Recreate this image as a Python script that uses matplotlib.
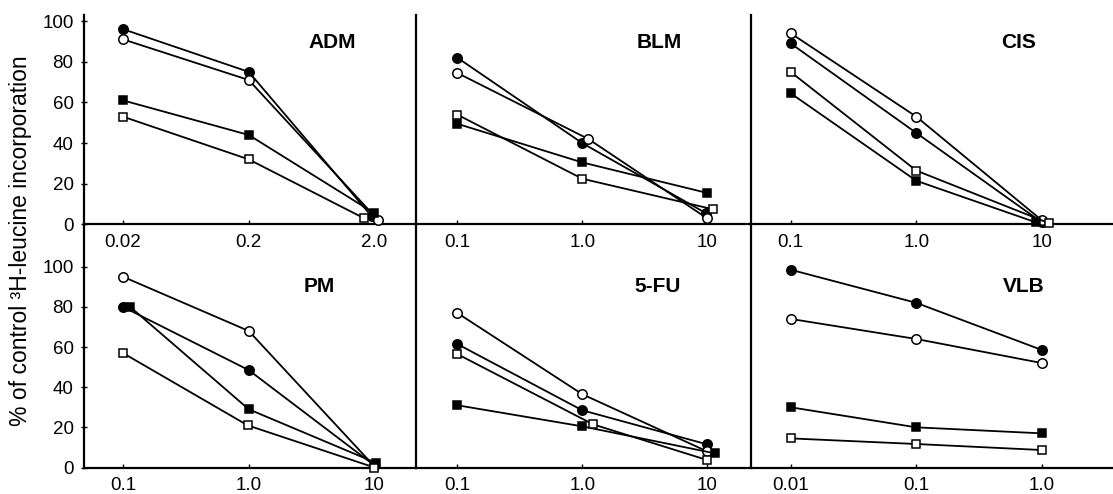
import matplotlib
matplotlib.use('Agg')
import matplotlib.pyplot as plt
import numpy as np
from matplotlib.ticker import FixedLocator, FixedFormatter, NullLocator

plt.rcParams['font.family'] = ['Liberation Sans', 'DejaVu Sans']

# panel names and dose ticks
panel_names = ['ADM', 'BLM', 'CIS', 'PM', '5-FU', 'VLB']
dose_ticks = [[0.02, 0.2, 2.0], [0.1, 1.0, 10], [0.1, 1.0, 10],
              [0.1, 1.0, 10], [0.1, 1.0, 10], [0.01, 0.1, 1.0]]
dose_labels = [['0.02', '0.2', '2.0'], ['0.1', '1.0', '10'], ['0.1', '1.0', '10'],
               ['0.1', '1.0', '10'], ['0.1', '1.0', '10'], ['0.01', '0.1', '1.0']]

# series order: filled circle, open circle, filled square, open square
adm_x = [[0.02, 0.2, 1.9], [0.02, 0.2, 2.15], [0.02, 0.2, 2.0], [0.02, 0.2, 1.66]]
adm_y = [[96, 75, 4], [91, 71, 2], [61, 44, 5.5], [53, 32, 3]]

blm_x = [[0.1, 1.0, 9.8], [0.1, 1.12, 10], [0.1, 1.0, 10], [0.1, 1.0, 11.1]]
blm_y = [[82, 40, 5.5], [74.5, 42, 3], [49.5, 30.5, 15.5], [54, 22.5, 7.5]]

cis_x = [[0.1, 1.0, 10], [0.1, 1.0, 10], [0.1, 1.0, 9], [0.1, 1.0, 11.4]]
cis_y = [[89, 45, 1], [94, 53, 2], [64.5, 21.5, 1], [75, 26.5, 0.6]]

pm_x = [[0.1, 1.0, 10], [0.1, 1.0, 10], [0.114, 1.0, 10.2], [0.1, 0.98, 10]]
pm_y = [[80, 48.5, 1], [95, 68, 0.5], [80, 29, 2.4], [57, 21, 0]]

fu_x = [[0.1, 1.0, 10], [0.1, 1.0, 10], [0.1, 1.0, 11.6], [0.1, 1.22, 10]]
fu_y = [[61.5, 28.5, 11.5], [77, 36.5, 8], [31, 20.5, 7], [56.5, 21.5, 3.7]]

vlb_x = [[0.01, 0.1, 1.0], [0.01, 0.1, 1.0], [0.01, 0.1, 1.0], [0.01, 0.1, 1.0]]
vlb_y = [[98.5, 82, 58.5], [74, 64, 52], [30, 20, 17], [14.5, 11.7, 8.7]]

panel_x = [adm_x, blm_x, cis_x, pm_x, fu_x, vlb_x]
panel_y = [adm_y, blm_y, cis_y, pm_y, fu_y, vlb_y]

y_ticks = [0, 20, 40, 60, 80, 100]

# layout (pixels)
W, H = 1113, 494
col_edges = [84, 416, 751, 1113]
row_tops = [15, 224.5]
row_bottoms = [224.5, 467.5]
px_per_unit = [2.035, 2.008]
col_pads = [(0.31, 0.33), (0.33, 0.35), (0.315, 0.565)]   # decades left/right
title_pos = [(0.747, 0.868), (0.725, 0.868), (0.738, 0.868),
             (0.708, 0.746), (0.72, 0.746), (0.754, 0.746)]

markers = ['o', 'o', 's', 's']
faces = ['black', 'white', 'black', 'white']
msizes = [6.8, 6.8, 6.0, 6.0]

fig = plt.figure(figsize=(W / 100, H / 100), dpi=100)

for i in range(6):
    r, c = divmod(i, 3)
    left = col_edges[c] / W
    width = (col_edges[c + 1] - col_edges[c]) / W
    bottom = 1 - row_bottoms[r] / H
    height = (row_bottoms[r] - row_tops[r]) / H
    ax = fig.add_axes([left, bottom, width, height])
    ax.set_xscale('log')

    for k in range(4):
        ax.plot(panel_x[i][k], panel_y[i][k], color='black', lw=1.3,
                marker=markers[k], ms=msizes[k], mfc=faces[k], mec='black',
                mew=1.1, clip_on=False, zorder=3)

    t = dose_ticks[i]
    lo, hi = col_pads[c]
    ax.set_xlim(t[0] / 10 ** lo, t[-1] * 10 ** hi)
    ymax = (row_bottoms[r] - row_tops[r]) / px_per_unit[r]
    ax.set_ylim(0, ymax)

    ax.xaxis.set_major_locator(FixedLocator(t))
    ax.xaxis.set_major_formatter(FixedFormatter(dose_labels[i]))
    ax.xaxis.set_minor_locator(NullLocator())
    ax.tick_params(axis='x', direction='in', length=3, width=1, pad=7, labelsize=13.5)

    if c == 0:
        ax.set_yticks(y_ticks)
        ax.tick_params(axis='y', direction='inout', length=5, width=1, pad=5, labelsize=13.5)
    else:
        ax.set_yticks([])

    ax.spines['top'].set_visible(False)
    ax.spines['right'].set_visible(False)
    ax.spines['left'].set_linewidth(1.6)
    ax.spines['bottom'].set_linewidth(1.6)
    ax.patch.set_visible(False)

    tx, ty = title_pos[i]
    ax.text(tx, ty, panel_names[i], transform=ax.transAxes, ha='center', va='center',
            fontsize=15, fontweight='bold')

fig.text(21 / W, 1 - 241 / H, '% of control ³H-leucine incorporation', rotation=90,
         ha='center', va='center', fontsize=16.5)

plt.savefig('out.png', dpi=100)
